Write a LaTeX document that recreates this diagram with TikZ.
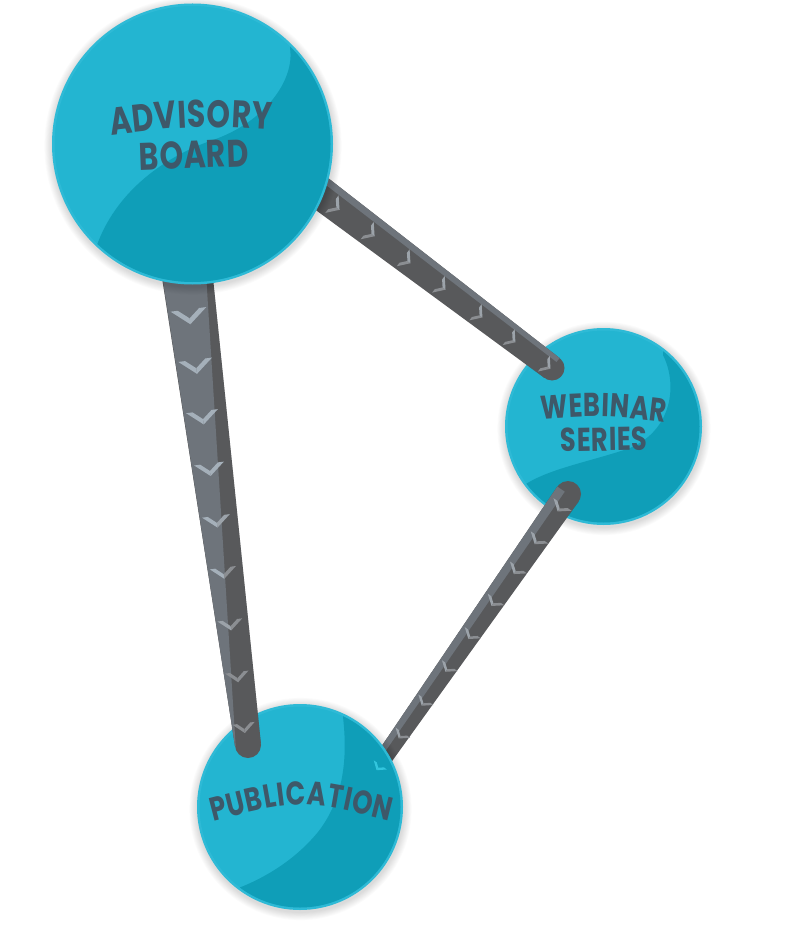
\documentclass[tikz,border=0pt]{standalone}
\usepackage{fontspec}
\newfontfamily\lbl[FakeStretch=0.78]{Poppins}
\usetikzlibrary{calc,decorations.text}
\definecolor{cyanL}{HTML}{23B5D1}
\definecolor{cyanD}{HTML}{0F9EB8}
\definecolor{cyanR}{HTML}{2EBAD6}
\definecolor{cyanC}{HTML}{33C6DE}
\definecolor{txt}{HTML}{3E5869}
\definecolor{barD}{HTML}{58595B}
\definecolor{barL}{HTML}{6E747B}
\definecolor{chevA}{HTML}{A5B0BA}
\definecolor{chevM}{HTML}{9CA3AA}
\definecolor{chevB}{HTML}{8B8E92}
% tapered bar: start, end, half width at start, half width at end, fill options
\newcommand\barshape[5]{\fill[#5] ($(#1)!#3!90:(#2)$) -- ($(#2)!#4!-90:(#1)$) -- ($(#2)!#4!90:(#1)$) -- ($(#1)!#3!-90:(#2)$) -- cycle;}
% chevron: axis start, axis end, pos, half width, depth, thickness, angle, colour +, colour -
\newcommand\chev[9]{%
 \begin{scope}[shift={($(#1)!#3!(#2)$)}, rotate=#7]
  \pgfmathsetmacro\ck{#4-#6*#4/#5}
  \fill[#8] (-#5/2,#4) -- (#5/2,0) -- (#5/2-#6,0) -- (-#5/2,\ck) -- cycle;
  \fill[#9] (-#5/2,-#4) -- (#5/2,0) -- (#5/2-#6,0) -- (-#5/2,-\ck) -- cycle;
 \end{scope}}
\newcommand\softshadow[3]{\foreach \k in {1,...,9}{\fill[black,opacity=0.016] (#1+0.5,#2+2) circle[radius=#3pt+\k*0.9pt];}}
\tikzset{bubble/.style={circle, inner sep=0pt, fill=cyanL, draw=cyanR, line width=2.5pt},
  lbltext/.style={decorate, decoration={text along path, text align=center, text color=txt, text={#1}}}}
\begin{document}
\begin{tikzpicture}[x=1pt,y=-1pt]
\useasboundingbox (0,0) rectangle (792,925);
\fill[white] (0,0) rectangle (792,925);

% ---- Webinar circle
\softshadow{603.5}{426.5}{98.5}
\node[bubble, minimum size=194.5pt] (web) at (603.5,426.5) {};
\begin{scope}
 \clip (web.center) circle[radius=96pt];
 \fill[cyanD] (663,355) .. controls (678,385) and (672,430) .. (630,448) .. controls (590,462) and (540,470) .. (518,490) -- (500,540) -- (720,540) -- (720,320) -- (663,320) -- cycle;
\end{scope}

% ---- Bar 3: webinar -> publication
\coordinate (b3s) at (568,494);
\coordinate (b3e) at (365,785);
\foreach \k in {1,...,4}{\begin{scope}[shift={(\k*1.3,\k*1)}]\barshape{b3s}{b3e}{13pt}{8pt}{black,opacity=0.03}\end{scope}}
\barshape{b3s}{b3e}{13pt}{8pt}{barD}
\fill[barD] (b3s) circle[radius=13pt];
\coordinate (b3ls) at ($(b3s)!8.5pt!-90:(b3e)$);
\coordinate (b3le) at ($(b3e)!5.2pt!90:(b3s)$);
\barshape{b3ls}{b3le}{4.5pt}{2.8pt}{barL}
\coordinate (c3s) at ($(b3s)!1.5pt!90:(b3e)$);
\coordinate (c3e) at ($(b3e)!1pt!-90:(b3s)$);
\foreach \t/\w/\d/\h in {0.045/11/8.5/3.6,0.158/10.7/8.3/3.5,0.261/10.4/8.1/3.4,0.371/10.1/7.9/3.3,0.485/9.8/7.7/3.2,0.598/9.5/7.5/3.1,0.715/9.2/7.3/3,0.828/8.9/7.1/3}
 {\chev{c3s}{c3e}{\t}{\w}{\d}{\h}{-124.9}{chevM}{chevB}}

% ---- Publication circle
\softshadow{300}{807}{103}
\node[bubble, minimum size=203.5pt] (pub) at (300,807) {};
\begin{scope}
 \clip (pub.center) circle[radius=100.5pt];
 \fill[cyanD] (343,717) .. controls (348,760) and (343,800) .. (318,832) .. controls (295,860) and (265,878) .. (236,889) -- (190,930) -- (420,930) -- (420,690) -- (343,690) -- cycle;
\end{scope}
\chev{c3s}{c3e}{0.938}{8}{6.5}{3}{-124.9}{cyanC}{cyanC}

% ---- Bar 2: advisory -> publication
\coordinate (b2s) at (184,250);
\coordinate (b2e) at (248,745);
\foreach \k in {1,...,5}{\begin{scope}[shift={(\k*1.4,\k*0.6)}]\barshape{b2s}{b2e}{26pt}{13pt}{black,opacity=0.03}\end{scope}}
\barshape{b2s}{b2e}{26pt}{13pt}{barD}
\fill[barD] (b2e) circle[radius=13pt];
\coordinate (b2ls) at ($(b2s)!2.5pt!-90:(b2e)$);
\coordinate (b2le) at ($(b2e)!12.7pt!90:(b2s)$);
\barshape{b2ls}{b2le}{23pt}{0.3pt}{barL}
\coordinate (c2s) at (180.5,250);
\coordinate (c2e) at (246.5,745);
\foreach \t/\w/\d/\h/\ca/\cb in {0.135/18/15/6/chevA/chevA,0.236/17/14.2/5.7/chevA/chevA,0.339/16/13.4/5.4/chevA/chevA,0.444/15/12.6/5.1/chevA/chevA,0.549/14/11.8/4.8/chevA/chevM,0.653/13.2/11.2/4.6/chevA/chevB,0.758/12.5/10.6/4.4/chevM/chevB,0.863/11.8/10.2/4.2/chevB/chevB,0.966/11.2/9.8/4/chevB/chevB}
 {\chev{c2s}{c2e}{\t}{\w}{\d}{\h}{-82.6}{\ca}{\cb}}

% ---- Bar 1: advisory -> webinar
\coordinate (b1s) at (290,170);
\coordinate (b1e) at (552,368);
\foreach \k in {1,...,4}{\begin{scope}[shift={(\k*0.8,\k*1.3)}]\barshape{b1s}{b1e}{17pt}{12.5pt}{black,opacity=0.03}\end{scope}}
\barshape{b1s}{b1e}{17pt}{12.5pt}{barD}
\fill[barD] (b1e) circle[radius=12.5pt];
\coordinate (b1ls) at ($(b1s)!13.5pt!90:(b1e)$);
\coordinate (b1le) at ($(b1e)!10pt!-90:(b1s)$);
\barshape{b1ls}{b1le}{3.5pt}{2.5pt}{barL}
\coordinate (c1s) at ($(b1s)!2pt!-90:(b1e)$);
\coordinate (c1e) at ($(b1e)!1.5pt!90:(b1s)$);
\foreach \t/\w/\d/\h in {0.179/11/9.5/4,0.313/10.8/9.3/3.9,0.450/10.6/9.1/3.8,0.584/10.4/8.9/3.7,0.725/10.2/8.7/3.6,0.851/10/8.5/3.5,0.985/9.8/8.3/3.5}
 {\chev{c1s}{c1e}{\t}{\w}{\d}{\h}{-37.1}{chevB}{chevM}}

% ---- Advisory circle
\softshadow{192.5}{144}{140.5}
\node[bubble, minimum size=278.5pt] (adv) at (192.5,144) {};
\begin{scope}
 \clip (adv.center) circle[radius=138pt];
 \fill[cyanD] (290,48) .. controls (295,80) and (265,122) .. (213,140) .. controls (160,158) and (115,195) .. (97,245) -- (60,330) -- (360,330) -- (360,0) -- (290,0) -- cycle;
\end{scope}

% ---- Labels
\path[lbltext={|\lbl\bfseries\fontsize{38.5}{38.5}\selectfont\kern0.6pt|ADVISORY}] (95,137) .. controls (191,125.3) .. (287,131);
\path[lbltext={|\lbl\bfseries\fontsize{38.5}{38.5}\selectfont\kern0.6pt|BOARD}] (120,171) -- (268,165.5);
\path[lbltext={|\lbl\bfseries\fontsize{33}{33}\selectfont\kern0.6pt|WEBINAR}] (528,420) .. controls (603,414.7) .. (678,424);
\path[lbltext={|\lbl\bfseries\fontsize{33}{33}\selectfont\kern0.6pt|SERIES}] (545,452) -- (663,450);
\path[lbltext={|\lbl\bfseries\fontsize{33}{33}\selectfont\kern0.8pt|PUBLICATION}] (200,825) .. controls (301,798.5) .. (402,824);
\end{tikzpicture}
\end{document}
